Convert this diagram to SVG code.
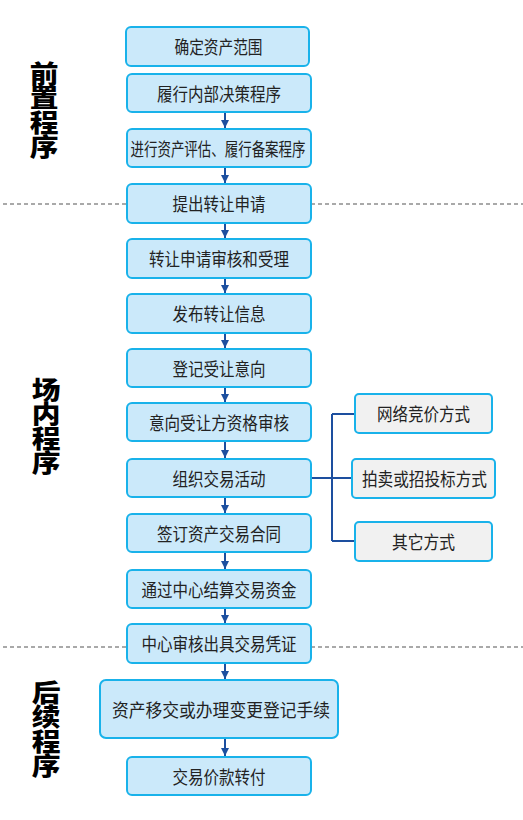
<svg xmlns="http://www.w3.org/2000/svg" width="523" height="820" viewBox="0 0 523 820">
<style>
.b{fill:#cbe9fa;stroke:#19b2ea;stroke-width:2}
.g{fill:#f1f1f1;stroke:#19b2ea;stroke-width:2}
.t{font-family:"Noto Sans CJK SC","Liberation Sans",sans-serif;font-size:18px;fill:#222;text-anchor:middle;dominant-baseline:central}
.s{font-family:"Noto Sans CJK SC",sans-serif;font-weight:900;font-size:25px;fill:#000;writing-mode:vertical-rl;letter-spacing:-0.5px}
.c{stroke:#1d4f9f;stroke-width:2;fill:none}
.d{stroke:#555;stroke-width:1.2;stroke-dasharray:4 3;fill:none}
</style>
<defs>
<marker id="ah" viewBox="0 0 8 10" refX="8" refY="5" markerWidth="8" markerHeight="10" markerUnits="userSpaceOnUse" orient="auto">
<path d="M0,1 L8,5 L0,9 Z" fill="#1d4f9f"/>
</marker>
</defs>
<g id="dividers">
<line class="d" x1="3" y1="204" x2="523" y2="204"/>
<line class="d" x1="3" y1="647" x2="523" y2="647"/>
</g>
<g id="label-pre"><text class="s" transform="translate(44,0) scale(1.15,1)" x="0" y="61">前置程序</text></g>
<g id="label-in"><text class="s" transform="translate(46,0) scale(1.15,1)" x="0" y="377">场内程序</text></g>
<g id="label-post"><text class="s" transform="translate(46,0) scale(1.15,1)" x="0" y="680">后续程序</text></g>
<g id="connectors">
<line class="c" x1="225" y1="113" x2="225" y2="128" marker-end="url(#ah)"/>
<line class="c" x1="225" y1="168" x2="225" y2="183" marker-end="url(#ah)"/>
<line class="c" x1="225" y1="223" x2="225" y2="238" marker-end="url(#ah)"/>
<line class="c" x1="225" y1="278" x2="225" y2="293" marker-end="url(#ah)"/>
<line class="c" x1="225" y1="333" x2="225" y2="348" marker-end="url(#ah)"/>
<line class="c" x1="225" y1="387" x2="225" y2="402" marker-end="url(#ah)"/>
<line class="c" x1="225" y1="441" x2="225" y2="458" marker-end="url(#ah)"/>
<line class="c" x1="225" y1="497" x2="225" y2="513" marker-end="url(#ah)"/>
<line class="c" x1="225" y1="552" x2="225" y2="569" marker-end="url(#ah)"/>
<line class="c" x1="225" y1="608" x2="225" y2="623" marker-end="url(#ah)"/>
<line class="c" x1="225" y1="663" x2="225" y2="679" marker-end="url(#ah)"/>
<line class="c" x1="225" y1="738" x2="225" y2="756" marker-end="url(#ah)"/>
<path class="c" d="M310,478 H352 M332,414 V541 M332,414 H355 M332,541 H355"/>
</g>
<g id="n1"><rect class="b" x="126" y="27" width="183" height="39" rx="5"/><text class="t" x="218.5" y="46" font-size="23" textLength="88" lengthAdjust="spacingAndGlyphs">确定资产范围</text></g>
<g id="n2"><rect class="b" x="127" y="74" width="184" height="38" rx="5"/><text class="t" x="219" y="92.5" textLength="124" lengthAdjust="spacingAndGlyphs">履行内部决策程序</text></g>
<g id="n3"><rect class="b" x="127" y="129" width="184" height="38" rx="5"/><text class="t" x="218" y="147.5" font-size="16" textLength="175" lengthAdjust="spacingAndGlyphs">进行资产评估、履行备案程序</text></g>
<g id="n4"><rect class="b" x="127" y="184" width="184" height="39" rx="5"/><text class="t" x="219" y="203" textLength="93" lengthAdjust="spacingAndGlyphs">提出转让申请</text></g>
<g id="n5"><rect class="b" x="127" y="239" width="184" height="39" rx="5"/><text class="t" x="219" y="258" textLength="140" lengthAdjust="spacingAndGlyphs">转让申请审核和受理</text></g>
<g id="n6"><rect class="b" x="127" y="294" width="184" height="39" rx="5"/><text class="t" x="219" y="313" textLength="93" lengthAdjust="spacingAndGlyphs">发布转让信息</text></g>
<g id="n7"><rect class="b" x="127" y="349" width="184" height="38" rx="5"/><text class="t" x="219" y="367.5" textLength="93" lengthAdjust="spacingAndGlyphs">登记受让意向</text></g>
<g id="n8"><rect class="b" x="127" y="403" width="184" height="38" rx="5"/><text class="t" x="219" y="421.5" textLength="140" lengthAdjust="spacingAndGlyphs">意向受让方资格审核</text></g>
<g id="n9"><rect class="b" x="127" y="459" width="184" height="38" rx="5"/><text class="t" x="219" y="477.5" textLength="93" lengthAdjust="spacingAndGlyphs">组织交易活动</text></g>
<g id="n10"><rect class="b" x="127" y="514" width="184" height="38" rx="5"/><text class="t" x="219" y="532.5" textLength="124" lengthAdjust="spacingAndGlyphs">签订资产交易合同</text></g>
<g id="n11"><rect class="b" x="127" y="570" width="184" height="38" rx="5"/><text class="t" x="219" y="588.5" textLength="155" lengthAdjust="spacingAndGlyphs">通过中心结算交易资金</text></g>
<g id="n12"><rect class="b" x="127" y="624" width="184" height="39" rx="5"/><text class="t" x="219" y="643" textLength="155" lengthAdjust="spacingAndGlyphs">中心审核出具交易凭证</text></g>
<g id="n13"><rect class="b" x="100" y="680" width="238" height="58" rx="6"/><text class="t" x="221" y="708.5" font-size="19" textLength="218" lengthAdjust="spacingAndGlyphs">资产移交或办理变更登记手续</text></g>
<g id="n14"><rect class="b" x="127" y="757" width="184" height="38" rx="5"/><text class="t" x="219" y="775.5" textLength="93" lengthAdjust="spacingAndGlyphs">交易价款转付</text></g>
<g id="r1"><rect class="g" x="355" y="394" width="137" height="39" rx="4"/><text class="t" x="423.5" y="413" textLength="93" lengthAdjust="spacingAndGlyphs">网络竞价方式</text></g>
<g id="r2"><rect class="g" x="352" y="459" width="143" height="39" rx="4"/><text class="t" x="424.5" y="478" textLength="125" lengthAdjust="spacingAndGlyphs">拍卖或招投标方式</text></g>
<g id="r3"><rect class="g" x="355" y="522" width="137" height="39" rx="4"/><text class="t" x="423.5" y="541" textLength="63" lengthAdjust="spacingAndGlyphs">其它方式</text></g>
</svg>
